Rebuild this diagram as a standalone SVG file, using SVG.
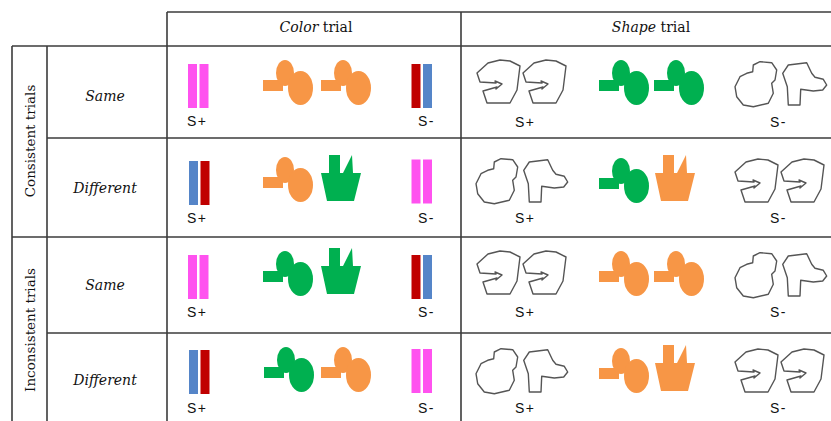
<svg xmlns="http://www.w3.org/2000/svg" width="831" height="421" viewBox="0 0 831 421">
<style>
  .grid{stroke:#3c3c3c;stroke-width:1.6;fill:none}
  .hdr{font-family:"DejaVu Serif","Liberation Serif",serif;font-size:14px;fill:#111}
  .it{font-style:italic}
  .cond{font-family:"DejaVu Serif","Liberation Serif",serif;font-style:italic;font-size:14px;fill:#111}
  .grp{font-family:"DejaVu Serif","Liberation Serif",serif;font-size:13.5px;fill:#111}
  .s{font-family:"Liberation Sans",Arial,sans-serif;font-size:14px;fill:#111;letter-spacing:1.5px}
  .outline{fill:#fff;stroke:#555;stroke-width:1.4;stroke-linejoin:round}
  .orange{fill:#F79646}
  .green{fill:#00B050}
</style>
<defs>
  <!-- filled "fist" blob: bar + top lobe + large oval -->
  <g id="blob">
    <rect x="0" y="20" width="20" height="11"/>
    <ellipse cx="22" cy="13" rx="9" ry="13"/>
    <ellipse cx="37.5" cy="28" rx="12.5" ry="17"/>
  </g>
  <!-- filled "cup" shape with tower and spike -->
  <path id="cup" d="M0,18 L8,18 L8,0 L19,0 L19,18 L22,18 L31,0 L32,18 L40,18 L33,46 L6,46 Z"/>
  <!-- outlined polygon with arrow notch -->
  <path id="arrowpoly" d="M1,14 L12,4 L24,1 L34,2 L44,7 L41,31 L34,44 L11,44 L7,32 L21,28 L20,30 L26,25 L19,22 L20,24 L4,23 Z"/>
  <g id="arrows">
    <use href="#arrowpoly"/>
    <use href="#arrowpoly" x="46"/>
  </g>
  <!-- outlined round blob and P-shape -->
  <g id="roundp">
    <path d="M11.7,12.3 L17.7,10.7 L18.3,4 L25,0.7 L36.7,1.7 L41.7,9 L40,19 L36.7,22.3 L38.3,32.3 L33.3,42.3 L18.3,45.7 L8.3,44 L1.7,35.7 L0,25.7 L5,15.7 Z"/>
    <path d="M53.3,4 L71.7,1.7 L76.7,12.3 L80,16.3 L88.3,18.3 L91.7,24 L87.7,29 L78.3,30 L65.7,28.3 L65,44 L53.3,44 L52.3,25.7 L47.7,12.3 Z"/>
  </g>
  <g id="pink">
    <rect x="0" y="0" width="9" height="44" fill="#FF52EF"/>
    <rect x="11.5" y="0" width="9" height="44" fill="#FF52EF"/>
  </g>
  <g id="redblue">
    <rect x="0" y="0" width="9" height="44" fill="#C00000"/>
    <rect x="11.5" y="0" width="9" height="44" fill="#5585C8"/>
  </g>
  <g id="bluered">
    <rect x="0" y="0" width="9" height="44" fill="#5585C8"/>
    <rect x="11.5" y="0" width="9" height="44" fill="#C00000"/>
  </g>
</defs>

<rect width="831" height="421" fill="#fff"/>

<!-- table rules -->
<g id="grid" class="grid">
  <path d="M167,12 H831 M12,46 H831 M47,138 H831 M12,237 H831 M47,333 H831"/>
  <path d="M167,12 V421 M461,12 V421 M12,46 V421 M47,46 V421"/>
</g>

<!-- column headers -->
<g id="header">
  <text class="hdr" x="316" y="32" text-anchor="middle"><tspan class="it">Color</tspan> trial</text>
  <text class="hdr" x="651" y="32" text-anchor="middle"><tspan class="it">Shape</tspan> trial</text>
</g>

<!-- row group labels -->
<g id="groups">
  <text class="grp" transform="translate(30,141) rotate(-90)" text-anchor="middle" dominant-baseline="central">Consistent trials</text>
  <text class="grp" transform="translate(30,330) rotate(-90)" text-anchor="middle" dominant-baseline="central">Inconsistent trials</text>
</g>

<!-- Consistent / Same -->
<g id="row-consistent-same">
  <text class="cond" x="105" y="101" text-anchor="middle">Same</text>
  <use href="#pink" x="188" y="64"/>
  <use href="#blob" class="orange" x="263" y="60"/>
  <use href="#blob" class="orange" x="321" y="60"/>
  <use href="#redblue" x="411.5" y="64"/>
  <text class="s" x="187" y="126">S+</text>
  <text class="s" x="418" y="126">S-</text>
  <use href="#arrows" class="outline" x="476" y="59"/>
  <use href="#blob" class="green" x="599" y="60"/>
  <use href="#blob" class="green" x="654" y="60"/>
  <use href="#roundp" class="outline" x="735" y="61"/>
  <text class="s" x="515" y="127">S+</text>
  <text class="s" x="770" y="127">S-</text>
</g>

<!-- Consistent / Different -->
<g id="row-consistent-different">
  <text class="cond" x="105" y="193" text-anchor="middle">Different</text>
  <use href="#bluered" x="189" y="161"/>
  <use href="#blob" class="orange" x="263" y="157"/>
  <use href="#cup" class="green" x="321" y="155"/>
  <use href="#pink" x="411.5" y="159.5"/>
  <text class="s" x="187" y="223">S+</text>
  <text class="s" x="418" y="223">S-</text>
  <use href="#roundp" class="outline" x="476" y="158"/>
  <use href="#blob" class="green" x="599" y="158"/>
  <use href="#cup" class="orange" x="655" y="155"/>
  <use href="#arrows" class="outline" x="734" y="158"/>
  <text class="s" x="515" y="223">S+</text>
  <text class="s" x="770" y="223">S-</text>
</g>

<!-- Inconsistent / Same -->
<g id="row-inconsistent-same">
  <text class="cond" x="105" y="290" text-anchor="middle">Same</text>
  <use href="#pink" x="188" y="255"/>
  <use href="#blob" class="green" x="263" y="251"/>
  <use href="#cup" class="green" x="321" y="248"/>
  <use href="#redblue" x="411.5" y="255"/>
  <text class="s" x="187" y="317">S+</text>
  <text class="s" x="418" y="317">S-</text>
  <use href="#arrows" class="outline" x="476" y="250"/>
  <use href="#blob" class="orange" x="599" y="251"/>
  <use href="#blob" class="orange" x="654" y="251"/>
  <use href="#roundp" class="outline" x="735" y="252"/>
  <text class="s" x="515" y="317">S+</text>
  <text class="s" x="770" y="317">S-</text>
</g>

<!-- Inconsistent / Different -->
<g id="row-inconsistent-different">
  <text class="cond" x="105" y="385" text-anchor="middle">Different</text>
  <use href="#bluered" x="189" y="350"/>
  <use href="#blob" class="green" x="264" y="347"/>
  <use href="#blob" class="orange" x="321" y="347"/>
  <use href="#pink" x="411.5" y="349"/>
  <text class="s" x="187" y="413">S+</text>
  <text class="s" x="418" y="413">S-</text>
  <use href="#roundp" class="outline" x="476" y="348"/>
  <use href="#blob" class="orange" x="599" y="348"/>
  <use href="#cup" class="orange" x="655" y="345"/>
  <use href="#arrows" class="outline" x="734" y="348"/>
  <text class="s" x="515" y="413">S+</text>
  <text class="s" x="770" y="413">S-</text>
</g>
</svg>
